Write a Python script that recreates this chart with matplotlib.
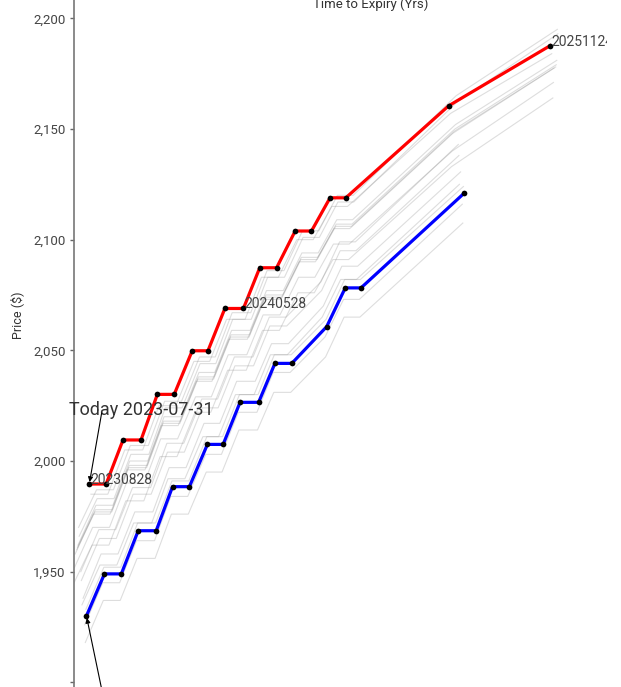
import matplotlib
matplotlib.use("Agg")
import matplotlib.pyplot as plt
from datetime import datetime

plt.rcParams['font.family'] = ['Roboto', 'DejaVu Sans']

# Data
today = '20230731'
start = '20230704'

red_contracts = ['20230828', '20230927', '20231027', '20231128', '20231227', '20240126',
                 '20240227', '20240326', '20240425', '20240528', '20240626', '20240726',
                 '20240828', '20240926', '20241029', '20241126', '20250528', '20251124']
red_prices = [1989.6, 1989.6, 2009.5, 2009.5, 2030.1, 2030.1, 2049.8, 2049.8, 2068.9,
              2068.9, 2087.3, 2087.3, 2103.9, 2103.9, 2118.9, 2118.9, 2160.5, 2187.6]

blue_contracts = ['20230727', '20230828', '20230927', '20231027', '20231128', '20231227',
                  '20240126', '20240227', '20240326', '20240425', '20240528', '20240626',
                  '20240726', '20240926', '20241029', '20241126', '20250528']
blue_prices = [1930.0, 1949.0, 1949.0, 1968.5, 1968.5, 1988.4, 1988.4, 2007.5, 2007.5,
               2026.5, 2026.5, 2044.1, 2044.1, 2060.7, 2078.2, 2078.2, 2120.9]

# history curves between start and today
late_contracts = ['20230727'] + red_contracts
gray_dates = ['20230705', '20230706', '20230707', '20230710', '20230712', '20230713',
              '20230714', '20230717', '20230718', '20230719', '20230720', '20230721',
              '20230724', '20230725', '20230726', '20230728']
gray_prices = [
    [1933, 1952, 1952, 1972, 1972, 1991, 1991, 2011, 2011, 2030, 2030, 2048, 2048, 2064, 2082, 2082, 2124],
    [1918, 1937, 1937, 1956, 1956, 1976, 1976, 1995, 1995, 2014, 2014, 2031, 2031, 2047, 2065, 2065, 2107.5],
    [1926, 1945, 1945, 1964, 1964, 1984, 1984, 2003, 2003, 2022, 2022, 2040, 2040, 2056, 2073, 2073, 2116],
    [1938, 1958, 1958, 1977, 1977, 1997, 1997, 2017, 2017, 2036, 2036, 2053, 2053, 2070, 2088, 2088, 2130.6],
    [1935, 1953, 1953, 1972, 1972, 1992, 1992, 2011, 2011, 2030, 2030, 2048, 2048, 2065, 2082, 2082, 2125],
    [1946, 1965, 1965, 1985, 1985, 2004, 2004, 2024, 2024, 2043, 2043, 2061, 2061, 2077, 2095, 2095, 2138],
    [1950, 1969, 1969, 1988, 1988, 2008, 2008, 2028, 2028, 2047, 2047, 2065, 2065, 2081, 2099, 2099, 2143],
    [1966, 1983, 1983, 2003, 2003, 2024, 2024, 2044, 2044, 2064, 2064, 2083, 2083, 2101, 2101, 2117, 2117, 2162, 2193],
    [1970, 1987, 1987, 2007, 2007, 2027, 2027, 2047, 2047, 2067, 2067, 2086, 2086, 2104, 2104, 2120, 2120, 2165, 2195],
    [1962, 1980, 1980, 2000, 2000, 2020, 2020, 2040, 2040, 2059, 2059, 2077, 2077, 2094, 2094, 2109, 2109, 2152, 2181],
    [1961, 1978, 1978, 1998, 1998, 2018, 2018, 2038, 2038, 2057, 2057, 2075, 2075, 2092, 2092, 2107, 2107, 2150, 2179],
    [1960, 1977, 1977, 1997, 1997, 2017, 2017, 2037, 2037, 2056, 2056, 2074, 2074, 2091, 2091, 2106, 2106, 2149, 2178],
    [1958, 1976, 1976, 1996, 1996, 2016, 2016, 2036, 2036, 2055, 2055, 2073, 2073, 2090, 2090, 2105, 2105, 2148, 2177.5],
    [1952, 1970, 1970, 1990, 1990, 2010, 2010, 2029, 2029, 2048, 2048, 2066, 2066, 2083, 2083, 2098, 2098, 2140, 2171],
    [1945, 1962, 1962, 1982, 1982, 2002, 2002, 2022, 2022, 2041, 2041, 2059, 2059, 2076, 2076, 2091, 2091, 2133, 2164],
    [1985, 1985, 2005, 2005, 2025, 2025, 2045, 2045, 2064, 2064, 2083, 2083, 2100, 2100, 2115, 2115, 2157, 2184],
]

labelled = ['20230828', '20240528', '20251124']
yticks = [1900, 1950, 2000, 2050, 2100, 2150, 2200]


def to_date(s):
    return datetime.strptime(s, '%Y%m%d')


def years(contracts, asof):
    d0 = to_date(asof)
    return [(to_date(c) - d0).days / 365.25 for c in contracts]


def contracts_for(asof, n):
    if n == len(blue_contracts):
        return blue_contracts
    cs = [c for c in late_contracts if c > asof]
    return cs[-n:]


fig = plt.figure(figsize=(6.21, 6.87), dpi=100)
ax = fig.add_axes([73.5 / 621, 0, (607 - 73.5) / 621, 1])

for d, p in zip(gray_dates, gray_prices):
    cs = contracts_for(d, len(p))
    ax.plot(years(cs, d), p, color='#888888', alpha=0.28, lw=0.8, zorder=1)

bx = years(blue_contracts, start)
rx = years(red_contracts, today)
ax.plot(bx, blue_prices, color='#0000ff', lw=2.3, zorder=3)
ax.plot(rx, red_prices, color='#ff0000', lw=2.3, zorder=3)
ax.scatter(bx, blue_prices, s=17, color='black', zorder=4, linewidths=0)
ax.scatter(rx, red_prices, s=17, color='black', zorder=4, linewidths=0)

for c, x, y in zip(red_contracts, rx, red_prices):
    if c in labelled:
        t = ax.annotate(c, (x, y), xytext=(1, 0), textcoords='offset points',
                        ha='left', va='baseline', fontsize=10, color='#444444', zorder=5)
        t.set_clip_box(ax.bbox)
        t.set_clip_on(True)

arrow = dict(arrowstyle='-|>', color='black', lw=0.8, shrinkA=0, shrinkB=1.5,
             mutation_scale=7)
ax.text(0.328, 2023.0, 'Today ' + to_date(today).strftime('%Y-%m-%d'), ha='center',
        va='center', fontsize=13, color='#333333', zorder=5)
ax.annotate('', (rx[0], red_prices[0]), xytext=(0.137, 2021.7), arrowprops=arrow, zorder=5)
ax.annotate('', (bx[0], blue_prices[0]), xytext=(0.175, 1880.0), arrowprops=arrow,
            annotation_clip=False, zorder=5)

ax.set_xlim(0, (607 - 73.5) / 205.5)
ax.set_ylim(1897.9, 2208.26)
ax.set_yticks(yticks)
ax.set_yticklabels(['' if t == 1900 else f'{t:,}' for t in yticks])
ax.tick_params(axis='y', length=3, width=1, color='#666666', labelcolor='#444444',
               labelsize=9.5, pad=2.5)
ax.tick_params(axis='x', bottom=False, labelbottom=False)
for s in ['top', 'right', 'bottom']:
    ax.spines[s].set_visible(False)
ax.spines['left'].set_color('#777777')
ax.spines['left'].set_linewidth(1.2)

fig.text(17 / 621, 1 - 315 / 687, 'Price ($)', rotation=90, ha='center', va='center',
         fontsize=9, color='#333333')
fig.text(371 / 621, 1 - 4 / 687, 'Time to Expiry (Yrs)', ha='center', va='center',
         fontsize=9.5, color='#333333')

fig.savefig('out.png', dpi=100)
